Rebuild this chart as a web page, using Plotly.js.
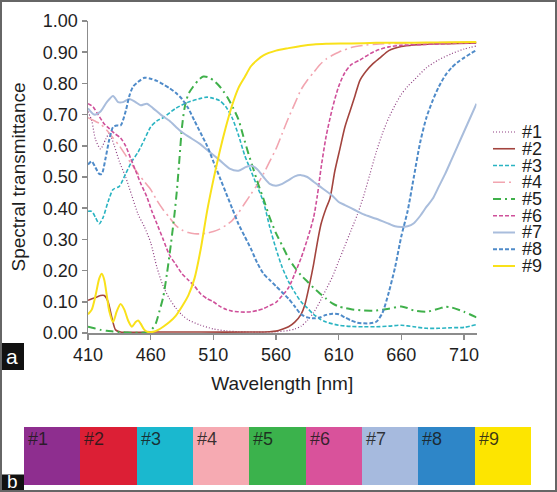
<!DOCTYPE html>
<html>
<head>
<meta charset="utf-8">
<script src="https://cdn.plot.ly/plotly-3.0.1.min.js"></script>
<style>
  html, body { margin: 0; padding: 0; background: #ffffff; }
  #chart { width: 557px; height: 492px; }
</style>
</head>
<body>
<div id="chart"></div>
<script>
// ---------------- DATA ----------------
const seriesNames = ['#1', '#2', '#3', '#4', '#5', '#6', '#7', '#8', '#9'];

const wl1 = [410,413,416,420,424,427,431,435,440,445,450,455,460,465,470,475,480,485,490,500,510,520,530,545,560,570,575,580,585,590,595,600,605,610,615,620,625,630,635,640,645,650,655,660,665,670,680,690,700,710,720];
const t1  = [0.71,0.68,0.62,0.59,0.62,0.64,0.60,0.55,0.50,0.44,0.38,0.34,0.29,0.21,0.15,0.11,0.08,0.058,0.042,0.025,0.013,0.007,0.004,0.003,0.004,0.008,0.013,0.022,0.04,0.065,0.10,0.14,0.18,0.23,0.28,0.33,0.38,0.44,0.51,0.58,0.64,0.69,0.73,0.765,0.79,0.81,0.85,0.876,0.895,0.91,0.92];

const wl2 = [410,415,420,423,426,429,432,436,460,500,540,555,560,565,570,575,580,583,587,590,593,596,600,603,607,611,615,619,623,627,632,637,643,650,660,670,690,720];
const t2  = [0.105,0.112,0.12,0.12,0.10,0.05,0.01,0.003,0.003,0.003,0.003,0.004,0.006,0.012,0.02,0.035,0.06,0.09,0.16,0.22,0.29,0.35,0.40,0.43,0.52,0.59,0.66,0.71,0.76,0.81,0.84,0.862,0.882,0.905,0.918,0.923,0.927,0.93];

const wl3 = [410,413,416,419,422,426,430,435,440,445,450,455,460,465,470,480,490,500,505,510,515,520,525,530,535,540,545,550,555,560,565,570,575,580,585,590,595,600,610,620,630,640,650,660,670,680,690,700,710,720];
const t3  = [0.39,0.39,0.37,0.35,0.37,0.42,0.46,0.47,0.51,0.55,0.58,0.62,0.66,0.68,0.69,0.72,0.74,0.752,0.756,0.752,0.745,0.725,0.69,0.635,0.57,0.52,0.47,0.42,0.34,0.27,0.21,0.165,0.13,0.10,0.08,0.06,0.045,0.035,0.025,0.021,0.02,0.02,0.022,0.025,0.02,0.015,0.015,0.017,0.018,0.027];

const wl4 = [410,415,420,425,430,435,440,445,450,455,460,465,470,475,480,485,490,495,500,505,510,515,520,525,530,535,540,545,550,555,560,565,570,575,580,585,590,595,600,605,610,620,630,640,660,680,700,720];
const t4  = [0.69,0.68,0.67,0.65,0.625,0.60,0.57,0.54,0.51,0.485,0.46,0.425,0.395,0.37,0.345,0.33,0.322,0.318,0.318,0.32,0.325,0.333,0.345,0.36,0.385,0.415,0.445,0.475,0.51,0.55,0.59,0.64,0.69,0.735,0.78,0.81,0.835,0.86,0.878,0.89,0.90,0.915,0.922,0.926,0.928,0.93,0.931,0.932];

const wl5 = [410,415,420,425,430,435,440,445,450,455,458,461,464,467,470,473,476,479,481,483,485,487,490,494,498,502,506,510,514,518,522,526,530,534,538,542,546,550,555,560,565,570,575,580,585,590,595,600,605,610,615,620,630,640,650,660,665,670,680,690,695,700,710,720];
const t5  = [0.02,0.015,0.01,0.007,0.005,0.003,0.002,0.001,0.001,0.001,0.003,0.012,0.03,0.07,0.115,0.19,0.28,0.38,0.46,0.56,0.66,0.72,0.765,0.79,0.81,0.822,0.82,0.81,0.795,0.775,0.75,0.72,0.685,0.63,0.575,0.525,0.475,0.43,0.37,0.32,0.28,0.24,0.21,0.185,0.165,0.145,0.127,0.11,0.095,0.085,0.08,0.076,0.072,0.072,0.078,0.085,0.08,0.072,0.068,0.078,0.084,0.082,0.068,0.05];

const wl6 = [410,414,418,423,427,431,436,440,444,448,452,457,461,465,470,475,480,485,490,495,500,505,510,515,520,525,530,535,540,545,550,555,560,565,570,575,580,585,590,593,596,600,605,610,615,620,627,635,640,650,660,680,700,720];
const t6  = [0.735,0.725,0.70,0.67,0.655,0.64,0.625,0.60,0.56,0.52,0.48,0.436,0.39,0.35,0.30,0.25,0.22,0.19,0.17,0.15,0.125,0.11,0.10,0.086,0.076,0.07,0.068,0.067,0.068,0.072,0.078,0.088,0.098,0.12,0.145,0.19,0.24,0.30,0.37,0.44,0.53,0.63,0.72,0.79,0.835,0.86,0.875,0.895,0.905,0.917,0.922,0.925,0.928,0.93];

const wl7 = [410,415,420,425,430,434,438,443,448,452,457,462,468,475,483,490,499,507,515,523,530,535,540,545,550,555,560,565,570,575,580,585,590,595,600,605,610,615,620,625,630,640,650,655,660,665,670,675,680,685,690,695,700,705,710,715,720];
const t7  = [0.72,0.70,0.71,0.74,0.76,0.74,0.74,0.75,0.74,0.73,0.735,0.72,0.70,0.68,0.65,0.63,0.607,0.58,0.554,0.527,0.52,0.53,0.537,0.525,0.50,0.478,0.472,0.478,0.49,0.502,0.506,0.50,0.485,0.47,0.455,0.44,0.42,0.41,0.40,0.39,0.38,0.366,0.35,0.342,0.34,0.342,0.352,0.375,0.404,0.43,0.47,0.51,0.555,0.60,0.645,0.69,0.735];

const wl8 = [410,413,416,419,421,424,427,430,433,436,440,443,446,450,455,460,465,470,475,480,485,490,495,500,505,510,515,520,525,530,535,540,545,550,555,560,565,570,575,580,585,590,595,600,605,610,615,620,625,630,635,640,645,650,655,660,665,670,675,680,685,690,695,700,705,710,715,720];
const t8  = [0.54,0.55,0.53,0.51,0.51,0.56,0.62,0.66,0.665,0.665,0.71,0.76,0.79,0.805,0.818,0.815,0.808,0.797,0.785,0.77,0.75,0.72,0.68,0.64,0.60,0.55,0.50,0.45,0.40,0.35,0.31,0.27,0.225,0.19,0.17,0.15,0.13,0.11,0.085,0.06,0.05,0.047,0.05,0.058,0.062,0.06,0.05,0.04,0.033,0.031,0.031,0.036,0.065,0.13,0.21,0.31,0.39,0.50,0.61,0.69,0.745,0.79,0.825,0.85,0.868,0.882,0.895,0.906];

const wl9 = [410,413,416,419,421,423,425,427,430,433,436,439,442,445,448,450,452,455,458,462,466,470,475,480,485,490,495,500,505,510,515,520,525,530,535,540,545,550,560,570,580,590,600,620,640,660,680,700,720];
const t9  = [0.06,0.075,0.12,0.175,0.19,0.17,0.12,0.07,0.035,0.07,0.093,0.075,0.04,0.02,0.035,0.04,0.03,0.01,0.003,0.004,0.01,0.02,0.035,0.055,0.085,0.12,0.175,0.27,0.39,0.49,0.58,0.66,0.73,0.785,0.82,0.855,0.875,0.89,0.905,0.913,0.92,0.925,0.927,0.928,0.93,0.93,0.931,0.932,0.933];

const wavelengths = [wl1, wl2, wl3, wl4, wl5, wl6, wl7, wl8, wl9];
const transmittance = [t1, t2, t3, t4, t5, t6, t7, t8, t9];

const xTickVals = [410, 460, 510, 560, 610, 660, 710];
const yTickVals = [0, 0.1, 0.2, 0.3, 0.4, 0.5, 0.6, 0.7, 0.8, 0.9, 1.0];

const swatchLabels = ['#1', '#2', '#3', '#4', '#5', '#6', '#7', '#8', '#9'];
const swatchColors = ['#8e2e8f', '#dc1f35', '#1ab8cf', '#f6aab2', '#3bb24c', '#d9529b', '#a6bade', '#2e86c8', '#fde500'];
const swatchHeights = [1, 1, 1, 1, 1, 1, 1, 1, 1];

// ---------------- STYLES ----------------
const lineColors = ['#8f3f82', '#a3443e', '#2ab4c2', '#f2a5b0', '#3fb04a', '#cf509a', '#a9bddc', '#4f8bc9', '#f9e11a'];
const lineDash   = ['1px,2px', 'solid', '4px,2px', '12px,4px,2px,4px', '8px,4px,2px,4px', '4px,2px', 'solid', '4px,2px', 'solid'];
const lineWidth  = [1.2, 1.6, 1.6, 1.6, 2, 1.6, 2, 2, 2];

const FONT = 'Liberation Sans, Arial, sans-serif';
const TXT = '#1e1e1e';
const W = 557, H = 492;
const M = {l: 24, r: 26, t: 21, b: 7};
const PW = W - M.l - M.r, PH = H - M.t - M.b;
const pxX = px => (px - M.l) / PW;
const pxY = py => (H - M.b - py) / PH;

// ---------------- TRACES ----------------
const traces = seriesNames.map((name, i) => ({
  type: 'scatter', mode: 'lines', name: name,
  x: wavelengths[i], y: transmittance[i],
  xaxis: 'x', yaxis: 'y',
  line: {color: lineColors[i], width: lineWidth[i], dash: lineDash[i], shape: 'spline', smoothing: 0.7},
  hoverinfo: 'skip', showlegend: false
}));

traces.push({
  type: 'bar', x: swatchLabels, y: swatchHeights,
  xaxis: 'x2', yaxis: 'y2',
  marker: {color: swatchColors, line: {width: 0}},
  hoverinfo: 'skip', showlegend: false
});

// ---------------- SHAPES / ANNOTATIONS ----------------
const shapes = [];
const annotations = [];

// manual legend
const legTop = 132, legStep = 16.75;
seriesNames.forEach((name, i) => {
  const yy = pxY(legTop + i * legStep);
  shapes.push({type: 'line', xref: 'paper', yref: 'paper',
    x0: pxX(493), x1: pxX(515), y0: yy, y1: yy,
    line: {color: lineColors[i], width: lineWidth[i], dash: lineDash[i]}});
  annotations.push({xref: 'paper', yref: 'paper', x: pxX(520), y: yy,
    xanchor: 'left', yanchor: 'middle', showarrow: false, text: name,
    font: {family: FONT, size: 18, color: TXT}});
});

// swatch labels
const cellW = PW / swatchLabels.length;
swatchLabels.forEach(lab => {
  annotations.push({xref: 'x2', yref: 'y2', x: lab, y: 1,
    xanchor: 'left', yanchor: 'top', xshift: -cellW / 2 + 2, yshift: 0,
    showarrow: false, text: lab,
    font: {family: FONT, size: 18, color: 'rgba(25,25,25,0.85)'}});
});

// panel letters
shapes.push({type: 'rect', xref: 'paper', yref: 'paper', layer: 'above',
  x0: pxX(0), x1: pxX(24), y0: pxY(370), y1: pxY(343), fillcolor: '#111111', line: {width: 0}});
annotations.push({xref: 'paper', yref: 'paper', x: pxX(12), y: pxY(356.5),
  xanchor: 'center', yanchor: 'middle', showarrow: false, text: 'a',
  font: {family: FONT, size: 21, color: '#ffffff'}});
shapes.push({type: 'rect', xref: 'paper', yref: 'paper', layer: 'above',
  x0: pxX(0), x1: pxX(24), y0: pxY(492), y1: pxY(474.5), fillcolor: '#111111', line: {width: 0}});
annotations.push({xref: 'paper', yref: 'paper', x: pxX(12), y: pxY(481.5),
  xanchor: 'center', yanchor: 'middle', showarrow: false, text: 'b',
  font: {family: FONT, size: 19, color: '#ffffff'}});

// outer frame
shapes.push({type: 'rect', xref: 'paper', yref: 'paper', layer: 'above',
  x0: pxX(1), x1: pxX(556), y0: pxY(491), y1: pxY(1),
  fillcolor: 'rgba(0,0,0,0)', line: {color: '#666666', width: 2}});

// ---------------- LAYOUT ----------------
const axisCommon = {
  showgrid: false, zeroline: false, showline: true,
  linecolor: '#8c8c8c', linewidth: 1.5,
  ticks: 'outside', ticklen: 5, tickwidth: 1.5, tickcolor: '#8c8c8c',
  tickfont: {family: FONT, size: 18, color: TXT}
};

const layout = {
  width: W, height: H,
  margin: M,
  paper_bgcolor: '#ffffff', plot_bgcolor: '#ffffff',
  showlegend: false,
  bargap: 0,
  font: {family: FONT, color: TXT},
  xaxis: Object.assign({}, axisCommon, {
    domain: [pxX(88), pxX(476.5)], anchor: 'y',
    range: [410, 720], tickmode: 'array', tickvals: xTickVals,
    title: {text: 'Wavelength [nm]', font: {family: FONT, size: 19, color: TXT}, standoff: 12}
  }),
  yaxis: Object.assign({}, axisCommon, {
    domain: [pxY(333), 1], anchor: 'x',
    range: [0, 1], tickmode: 'array', tickvals: yTickVals, tickformat: '.2f',
    title: {text: 'Spectral transmittance', font: {family: FONT, size: 19, color: TXT}, standoff: 12}
  }),
  xaxis2: {domain: [0, 1], anchor: 'y2', visible: false, type: 'category'},
  yaxis2: {domain: [0, pxY(427)], anchor: 'x2', visible: false, range: [0, 1]},
  shapes: shapes,
  annotations: annotations
};

Plotly.newPlot('chart', traces, layout, {displayModeBar: false, staticPlot: true});
</script>
</body>
</html>
